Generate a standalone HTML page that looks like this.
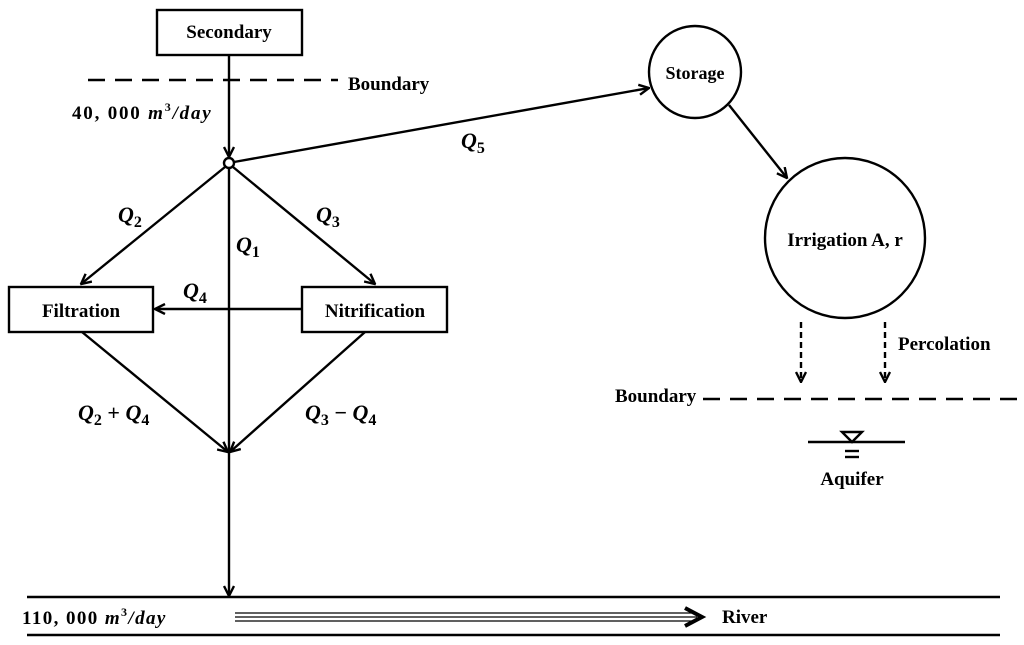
<!DOCTYPE html>
<html><head><meta charset="utf-8"><style>body{margin:0;background:#fff}svg{display:block}</style></head>
<body>
<svg width="1024" height="645" viewBox="0 0 1024 645" xmlns="http://www.w3.org/2000/svg" font-family="'Liberation Serif', serif" fill="none" stroke="#000" stroke-width="2.4">
<defs>
<marker id="a" viewBox="0 0 12 12" refX="11" refY="6" markerWidth="12" markerHeight="12" markerUnits="userSpaceOnUse" orient="auto"><path d="M1 1 L11 6 L1 11" fill="none" stroke="#000" stroke-width="2.4"/></marker>
</defs>
<rect x="157" y="10" width="145" height="45"/>
<line x1="88" y1="80" x2="338" y2="80" stroke-dasharray="17,10"/>
<line x1="229" y1="55" x2="229" y2="157" marker-end="url(#a)"/>
<circle cx="229" cy="163" r="5" fill="#fff"/>
<line x1="234" y1="162" x2="649" y2="88" marker-end="url(#a)"/>
<line x1="225" y1="167" x2="81" y2="284" marker-end="url(#a)"/>
<line x1="233" y1="167" x2="375" y2="284" marker-end="url(#a)"/>
<rect x="9" y="287" width="144" height="45"/>
<rect x="302" y="287" width="145" height="45"/>
<line x1="302" y1="309" x2="155" y2="309" marker-end="url(#a)"/>
<line x1="229" y1="168" x2="229" y2="596" marker-end="url(#a)"/>
<line x1="82" y1="332" x2="228" y2="452" marker-end="url(#a)"/>
<line x1="365" y1="332" x2="230" y2="452" marker-end="url(#a)"/>
<circle cx="695" cy="72" r="46"/>
<line x1="729" y1="105" x2="787" y2="178" marker-end="url(#a)"/>
<circle cx="845" cy="238" r="80"/>
<line x1="801" y1="322" x2="801" y2="382" stroke-dasharray="6,4" marker-end="url(#a)"/>
<line x1="885" y1="322" x2="885" y2="382" stroke-dasharray="6,4" marker-end="url(#a)"/>
<line x1="703" y1="399" x2="1020" y2="399" stroke-dasharray="17,10"/>
<line x1="808" y1="442" x2="905" y2="442"/>
<path d="M842 432 L862 432 L852 442 Z"/>
<line x1="845" y1="451" x2="859" y2="451"/><line x1="845" y1="457" x2="859" y2="457"/>
<line x1="27" y1="597" x2="1000" y2="597"/>
<line x1="27" y1="635" x2="1000" y2="635"/>
<g stroke-width="1.3"><line x1="235" y1="613" x2="695" y2="613"/><line x1="235" y1="617" x2="697" y2="617"/><line x1="235" y1="621" x2="695" y2="621"/></g>
<path d="M685 608 L702 617 L685 626" stroke-width="4"/>
<g fill="#000" stroke="none" font-size="19" font-weight="bold">
<text x="229" y="38" text-anchor="middle">Secondary</text>
<text x="348" y="90">Boundary</text>
<text x="81" y="317" text-anchor="middle">Filtration</text>
<text x="375" y="317" text-anchor="middle">Nitrification</text>
<text x="695" y="79" text-anchor="middle" font-size="18">Storage</text>
<text x="845" y="246" text-anchor="middle">Irrigation A, r</text>
<text x="898" y="350">Percolation</text>
<text x="615" y="402">Boundary</text>
<text x="852" y="485" text-anchor="middle">Aquifer</text>
<text x="722" y="623">River</text>
<text x="72" y="119" letter-spacing="1.8">40, 000 <tspan font-style="italic">m</tspan><tspan font-size="12" dy="-8">3</tspan><tspan dy="8" font-style="italic">/day</tspan></text>
<text x="22" y="624" letter-spacing="1.4">110, 000 <tspan font-style="italic">m</tspan><tspan font-size="12" dy="-8">3</tspan><tspan dy="8" font-style="italic">/day</tspan></text>
<g font-size="22" font-style="italic">
<text x="118" y="222">Q<tspan font-size="16" dy="5" font-style="normal">2</tspan></text>
<text x="316" y="222">Q<tspan font-size="16" dy="5" font-style="normal">3</tspan></text>
<text x="236" y="252">Q<tspan font-size="16" dy="5" font-style="normal">1</tspan></text>
<text x="183" y="298">Q<tspan font-size="16" dy="5" font-style="normal">4</tspan></text>
<text x="461" y="148">Q<tspan font-size="16" dy="5" font-style="normal">5</tspan></text>
<text x="78" y="420">Q<tspan font-size="16" dy="5" font-style="normal">2</tspan><tspan dy="-5" font-style="normal"> + </tspan>Q<tspan font-size="16" dy="5" font-style="normal">4</tspan></text>
<text x="305" y="420">Q<tspan font-size="16" dy="5" font-style="normal">3</tspan><tspan dy="-5" font-style="normal"> − </tspan>Q<tspan font-size="16" dy="5" font-style="normal">4</tspan></text>
</g>
</g>
</svg>
</body></html>
